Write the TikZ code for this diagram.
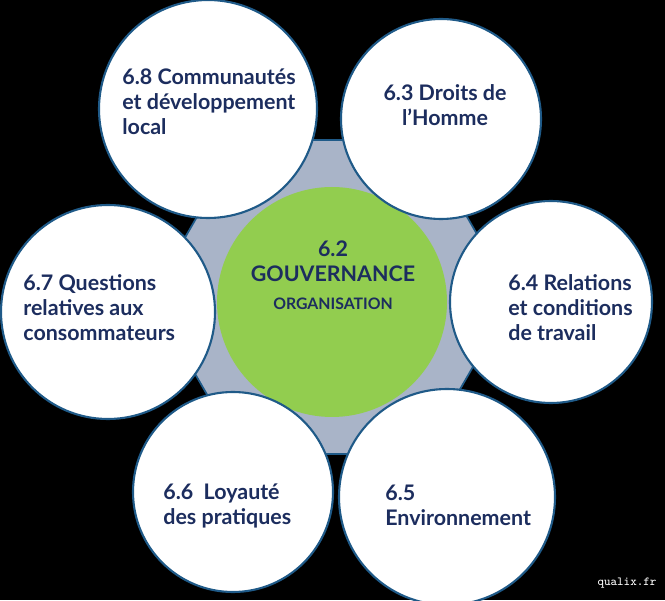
\documentclass[tikz,border=0pt]{standalone}
\usepackage{fontspec}
\setmainfont{Lato}
\usepackage{tikz}

\definecolor{marine}{HTML}{1C2D5E}
\definecolor{contour}{HTML}{1F5A88}
\definecolor{vertiso}{HTML}{92CD4F}
\definecolor{grisbleu}{HTML}{A9B4C8}

\begin{document}
\begin{tikzpicture}[
    bulle/.style={circle, draw=contour, line width=1.2pt, fill=white, inner sep=0pt},
    texte/.style={text=marine, font=\bfseries\fontsize{12.2}{14.2}\selectfont, align=left, inner sep=0pt}
  ]
      % Fond
      \fill[black] (0,0) rectangle (13.3,12);
      \useasboundingbox (0,0) rectangle (13.3,12);

      % Hexagone
      \coordinate (hx) at (6.64,6.06);
      \draw[contour, fill=grisbleu, line width=1pt] (hx) +(0:3.626) -- +(60:3.626) -- +(120:3.626)
        -- +(180:3.626) -- +(240:3.626) -- +(300:3.626) -- cycle;

      % Gouvernance
      \node[circle, fill=vertiso, minimum size=4.6cm, inner sep=0pt] (gouv) at (6.64,5.96) {};
      \node[texte, align=center] (t62) at (6.66,6.5)
        {6.2\\GOUVERNANCE\\[2pt]{\fontsize{9}{11}\selectfont ORGANISATION}};

      % Questions centrales
      \node[bulle, minimum size=4.36cm] (c68) at (4.16,9.82) {};
      \node[bulle, minimum size=4.0cm] (c63) at (8.82,9.62) {};
      \node[bulle, minimum size=4.04cm] (c64) at (11.02,5.96) {};
      \node[bulle, minimum size=4.32cm] (c65) at (8.94,2.06) {};
      \node[bulle, minimum size=4.0cm] (c66) at (4.66,2.16) {};
      \node[bulle, minimum size=4.28cm] (c67) at (2.16,5.76) {};

      \node[texte, anchor=west] (t68) at (2.44,9.96) {6.8 Communautés\\et développement\\local};
      \node[texte, align=center] (t63) at (8.9,9.89) {6.3 Droits de\\l’Homme};
      \node[texte, anchor=west] (t64) at (10.16,5.84) {6.4 Relations\\et conditions\\de travail};
      \node[texte, anchor=west] (t65) at (7.7,1.89) {6.5\\Environnement};
      \node[texte, anchor=west] (t66) at (3.26,1.89) {6.6\ \ Loyauté\\des pratiques};
      \node[texte, anchor=west] (t67) at (0.46,5.84) {6.7 Questions\\relatives aux\\consommateurs};

      \node[text=white, font=\ttfamily\fontsize{7}{8}\selectfont] (wm) at (12.54,0.34) {qualix.fr};
\end{tikzpicture}
\end{document}
